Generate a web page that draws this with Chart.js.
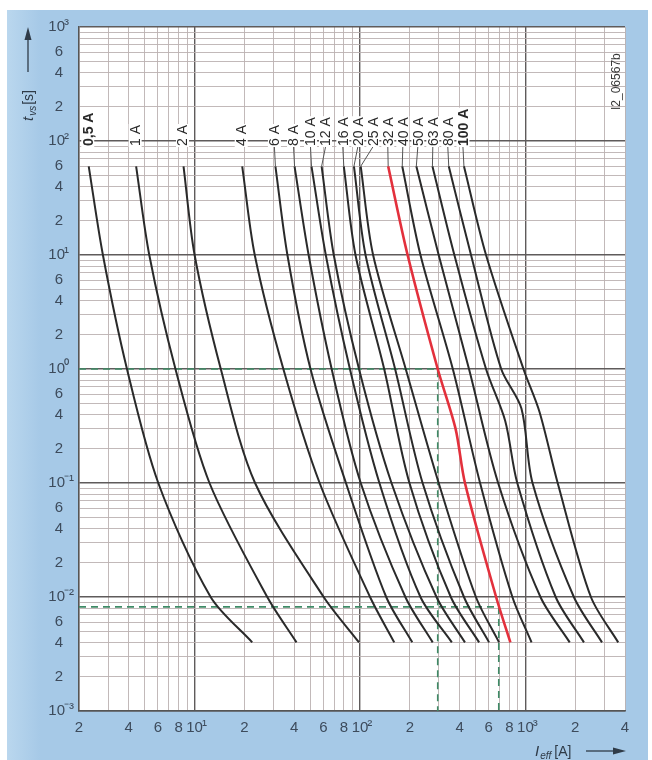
<!DOCTYPE html>
<html lang="de">
<head>
<meta charset="UTF-8">
<title>Zeit-Strom-Kennlinien</title>
<script src="https://cdn.jsdelivr.net/npm/chart.js@4"></script>
<style>
  body { margin: 0; background: #fff; }
  canvas { display: block; }
</style>
</head>
<body>
<canvas id="chart" width="652" height="760"></canvas>
<script>
// Fuse ratings (top labels) and the melting curves
const RATINGS = ['0,5', '1', '2', '4', '6', '8', '10', '12', '16', '20', '25', '32', '40', '50', '63', '80', '100'];
const TIMES = [60, 10, 1, 0.1, 0.01, 0.004];      // t_vs [s]

// I_eff [A] at each of TIMES
const I_0_5 = [2.29, 2.79, 3.9, 6.03, 12.5, 22.3];
const I_1   = [4.43, 5.32, 7.66, 12.3, 27.5, 41.3];
const I_2   = [8.57, 10.0, 14.4, 23.2, 60.3, 98.6];
const I_4   = [19.4, 23.1, 34.4, 57.0, 115, 161];
const I_6   = [30.8, 36.4, 50.2, 82.2, 144, 207];
const I_8   = [40.2, 48.9, 67.4, 101, 188, 275];
const I_10  = [50.9, 62.1, 86.9, 131, 232, 359];
const I_12  = [58.6, 69.4, 98.6, 155, 290, 431];
const I_16  = [79.8, 93.9, 140, 199, 354, 525];
const I_20  = [91.9, 108, 163, 239, 425, 603];
const I_25  = [101, 120, 189, 299, 502, 693];
const I_32  = [148, 194, 295, 431, 665, 811];
const I_40  = [180, 232, 364, 532, 834, 1089];
const I_50  = [219, 299, 456, 684, 1233, 1853];
const I_63  = [274, 372, 578, 893, 1524, 2259];
const I_80  = [344, 469, 714, 1104, 1963, 2904];
const I_100 = [425, 578, 973, 1567, 2489, 3639];
const CURRENTS = [I_0_5, I_1, I_2, I_4, I_6, I_8, I_10, I_12, I_16, I_20, I_25, I_32, I_40, I_50, I_63, I_80, I_100];

// knee points on some curves: rating, t [s], I [A]
const KNEE_RATING = ['32', '63', '80', '100'];
const KNEE_T = [0.3, 0.35, 0.45, 0.42];
const KNEE_I = [378, 755, 946, 1217];

// green dashed reading lines: t [s] and the current where they meet the 32 A curve
const REF_T = [1, 0.0082];
const REF_I = [295, 690];

// axis labels
const X_LABELS = [2, 4, 6, 8, 10, 20, 40, 60, 80, 100, 200, 400, 600, 800, 1000, 2000, 4000];
const Y_LABELS = [0.001, 0.002, 0.004, 0.006, 0.01, 0.02, 0.04, 0.06, 0.1, 0.2, 0.4, 0.6,
                  1, 2, 4, 6, 10, 20, 40, 60, 100, 200, 400, 600, 1000];

const FONT = '"Liberation Sans", Arial, sans-serif';
const TICK_COLOR = '#3d4b5c';

function logGrid(min, max) {
  const out = [];
  for (let e = -4; e <= 4; e++) {
    for (let m = 1; m <= 9; m++) {
      const v = m * Math.pow(10, e);
      if (v >= min * 0.999 && v <= max * 1.001) out.push(v);
    }
  }
  return out;
}

function isDecade(v) {
  const l = Math.log10(v);
  return Math.abs(l - Math.round(l)) < 1e-6;
}

function mantissa(v) {
  return Math.round(v / Math.pow(10, Math.floor(Math.log10(v) + 1e-9)));
}

const SUP = { '-': '\u207B', '0': '\u2070', '1': '\u00B9', '2': '\u00B2', '3': '\u00B3' };

const datasets = [];
RATINGS.forEach((r, i) => {
  const pts = TIMES.map((t, k) => ({ x: CURRENTS[i][k], y: t }));
  KNEE_RATING.forEach((kr, j) => {
    if (kr === r) pts.push({ x: KNEE_I[j], y: KNEE_T[j] });
  });
  pts.sort((a, b) => b.y - a.y);
  const red = r === '32';
  datasets.push({
    label: r + ' A',
    data: pts,
    showLine: true,
    borderColor: red ? '#e3303c' : '#2a2a2a',
    borderWidth: red ? 2.6 : 2,
    pointRadius: 0,
    tension: 0.3,
    order: red ? 0 : 1
  });
});
REF_T.forEach((t, i) => {
  datasets.push({
    label: 'ref' + i,
    data: [{ x: 2, y: t }, { x: REF_I[i], y: t }, { x: REF_I[i], y: 0.001 }],
    showLine: true,
    borderColor: '#3f8a66',
    borderWidth: 1.6,
    borderDash: [7, 5],
    pointRadius: 0,
    tension: 0,
    order: 2
  });
});

const background = {
  id: 'background',
  beforeDraw(chart) {
    const { ctx, chartArea: a } = chart;
    ctx.save();
    ctx.fillStyle = '#ffffff';
    ctx.fillRect(0, 0, chart.width, chart.height);
    const g = ctx.createLinearGradient(7, 0, 40, 0);
    g.addColorStop(0, '#bad7ee');
    g.addColorStop(1, '#a6c9e7');
    ctx.fillStyle = g;
    ctx.fillRect(7, 10, 641, chart.height - 10);
    ctx.fillStyle = '#ffffff';
    ctx.fillRect(a.left, a.top, a.right - a.left, a.bottom - a.top);
    ctx.restore();
  }
};

function drawPow(ctx, exp, x, y, align) {
  const sup = String(exp).split('').map(c => SUP[c]).join('');
  ctx.font = '15px ' + FONT;
  const w10 = ctx.measureText('10').width;
  const x0 = align === 'right' ? x - w10 : x - w10 / 2;
  ctx.textAlign = 'left';
  ctx.fillText('10', x0, y);
  ctx.fillText(sup, x0 + w10 - 1, y - 2);
}

const annotations = {
  id: 'annotations',
  afterDraw(chart) {
    const { ctx, chartArea: a } = chart;
    const xs = chart.scales.x, ys = chart.scales.y;
    ctx.save();
    ctx.fillStyle = TICK_COLOR;
    ctx.textBaseline = 'middle';

    // y tick labels
    Y_LABELS.forEach(v => {
      const py = ys.getPixelForValue(v);
      if (isDecade(v)) {
        drawPow(ctx, Math.round(Math.log10(v)), 65, py, 'right');
      } else {
        ctx.font = '15px ' + FONT;
        ctx.textAlign = 'right';
        ctx.fillText(String(mantissa(v)), 63, py);
      }
    });

    // x tick labels
    X_LABELS.forEach(v => {
      const px = xs.getPixelForValue(v);
      const py = a.bottom + 17;
      if (isDecade(v)) {
        drawPow(ctx, Math.round(Math.log10(v)), px, py, 'center');
      } else {
        ctx.font = '15px ' + FONT;
        ctx.textAlign = 'center';
        ctx.fillText(String(mantissa(v)), px, py);
      }
    });

    // rating labels with leaders
    const labelBase = ys.getPixelForValue(100) + 5;
    let prev = -100;
    RATINGS.forEach((r, i) => {
      const cx = xs.getPixelForValue(CURRENTS[i][0]);
      const cy = ys.getPixelForValue(TIMES[0]);
      const lx = Math.max(cx - 1, prev + 15);
      prev = lx;
      const bold = r === '0,5' || r === '100';
      const text = r + ' A';
      if (i >= 4) {
        ctx.strokeStyle = '#555';
        ctx.lineWidth = 1;
        ctx.beginPath();
        ctx.moveTo(lx, labelBase + 1);
        ctx.lineTo(cx, cy);
        ctx.stroke();
      }
      ctx.save();
      ctx.translate(lx, labelBase);
      ctx.rotate(-Math.PI / 2);
      ctx.font = (bold ? 'bold ' : '') + '14px ' + FONT;
      const w = ctx.measureText(text).width;
      ctx.fillStyle = '#ffffff';
      ctx.fillRect(-1, -6.5, w + 2, 13);
      ctx.fillStyle = '#2a2a2a';
      ctx.textAlign = 'left';
      ctx.textBaseline = 'middle';
      ctx.fillText(text, 0, 1);
      ctx.restore();
    });

    // drawing id
    ctx.save();
    ctx.translate(a.right - 8, 110);
    ctx.rotate(-Math.PI / 2);
    ctx.font = '12px ' + FONT;
    ctx.fillStyle = '#3a3a3a';
    ctx.textAlign = 'left';
    ctx.textBaseline = 'middle';
    ctx.fillText('I2_06567b', 0, 0);
    ctx.restore();

    // y axis title with arrow
    ctx.fillStyle = '#2f3b48';
    ctx.strokeStyle = '#2f3b48';
    ctx.save();
    ctx.translate(28, 121);
    ctx.rotate(-Math.PI / 2);
    ctx.textAlign = 'left';
    ctx.textBaseline = 'alphabetic';
    ctx.font = 'italic 15px ' + FONT;
    ctx.fillText('t', 0, 5);
    let off = ctx.measureText('t').width + 1;
    ctx.font = 'italic 10px ' + FONT;
    ctx.fillText('vs', off, 8);
    off += ctx.measureText('vs').width + 1;
    ctx.font = '14px ' + FONT;
    ctx.fillText('[s]', off, 5);
    ctx.restore();
    ctx.lineWidth = 1.3;
    ctx.beginPath();
    ctx.moveTo(28, 72);
    ctx.lineTo(28, 38);
    ctx.stroke();
    ctx.beginPath();
    ctx.moveTo(28, 27);
    ctx.lineTo(24.5, 40);
    ctx.lineTo(31.5, 40);
    ctx.closePath();
    ctx.fill();

    // x axis title with arrow
    const by = a.bottom + 45;
    ctx.textAlign = 'left';
    ctx.textBaseline = 'alphabetic';
    ctx.font = 'italic 15px ' + FONT;
    ctx.fillText('I', 535, by);
    let xo = 535 + ctx.measureText('I').width + 1;
    ctx.font = 'italic 10px ' + FONT;
    ctx.fillText('eff', xo, by + 3);
    xo += ctx.measureText('eff').width + 3;
    ctx.font = '14px ' + FONT;
    ctx.fillText('[A]', xo, by);
    ctx.beginPath();
    ctx.moveTo(586, by - 5);
    ctx.lineTo(614, by - 5);
    ctx.stroke();
    ctx.beginPath();
    ctx.moveTo(626, by - 5);
    ctx.lineTo(613, by - 8.5);
    ctx.lineTo(613, by - 1.5);
    ctx.closePath();
    ctx.fill();

    ctx.restore();
  }
};

const gridColor = c => (c.tick && isDecade(c.tick.value)) ? '#5f5b5b' : '#bbb1b1';
const gridWidth = c => (c.tick && isDecade(c.tick.value)) ? 1.4 : 0.9;

new Chart(document.getElementById('chart'), {
  type: 'scatter',
  data: { datasets },
  plugins: [background, annotations],
  options: {
    responsive: false,
    animation: false,
    layout: { padding: { left: 0, right: 27, top: 27, bottom: 0 } },
    plugins: { legend: { display: false }, tooltip: { enabled: false } },
    scales: {
      x: {
        type: 'logarithmic',
        min: 2,
        max: 4000,
        afterBuildTicks: s => { s.ticks = logGrid(2, 4000).map(v => ({ value: v })); },
        afterFit: s => { s.height = 49; },
        ticks: { display: false, autoSkip: false },
        grid: { color: gridColor, lineWidth: gridWidth, drawTicks: false },
        border: { color: '#555', width: 1.4 }
      },
      y: {
        type: 'logarithmic',
        min: 0.001,
        max: 1000,
        afterBuildTicks: s => { s.ticks = logGrid(0.001, 1000).map(v => ({ value: v })); },
        afterFit: s => { s.width = 79; },
        ticks: { display: false, autoSkip: false },
        grid: { color: gridColor, lineWidth: gridWidth, drawTicks: false },
        border: { color: '#555', width: 1.4 }
      }
    }
  }
});
</script>
</body>
</html>
